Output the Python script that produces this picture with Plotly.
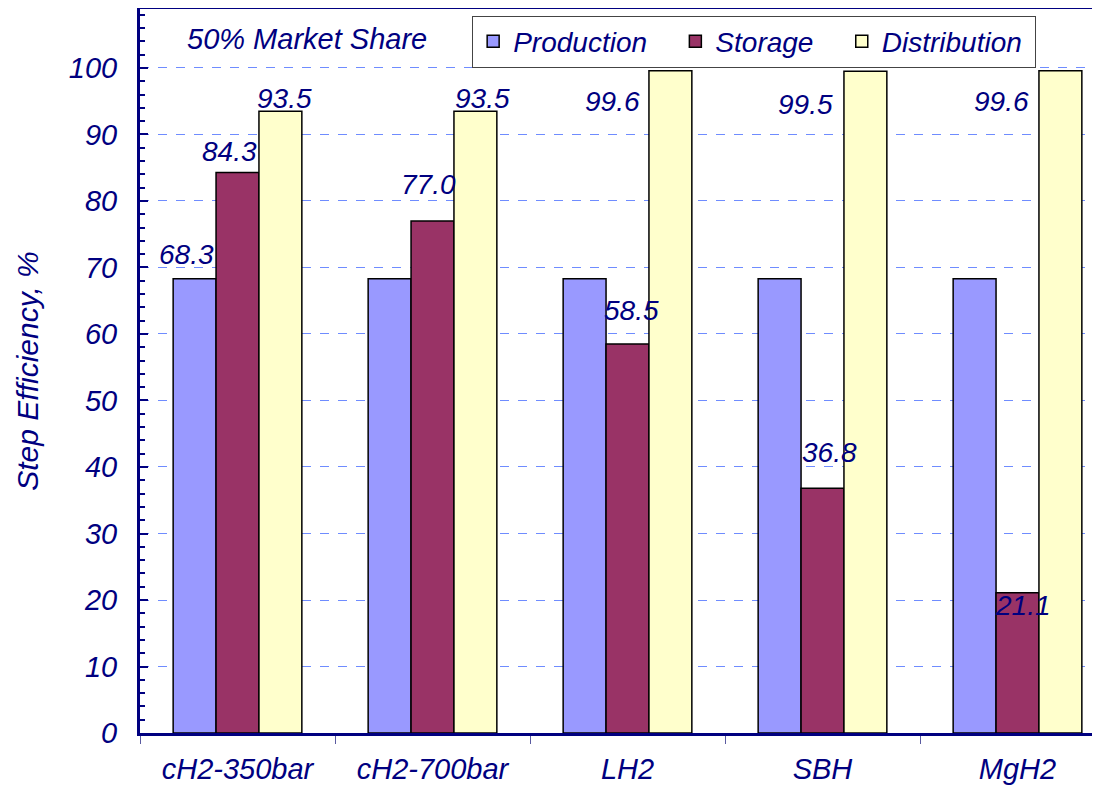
import plotly.graph_objects as go

# data
categories = ["cH2-350bar", "cH2-700bar", "LH2", "SBH", "MgH2"]
series_names = ["Production", "Storage", "Distribution"]
production = [68.3, 68.3, 68.3, 68.3, 68.3]
storage = [84.3, 77.0, 58.5, 36.8, 21.1]
distribution = [93.5, 93.5, 99.6, 99.5, 99.6]
# which values get a printed label (None = no label)
production_labels = ["68.3", None, None, None, None]
storage_labels = ["84.3", "77.0", "58.5", "36.8", "21.1"]
distribution_labels = ["93.5", "93.5", "99.6", "99.5", "99.6"]

NAVY = "#000080"
FONT = "Arial, Liberation Sans, sans-serif"
colors = ["#9999FF", "#993366", "#FFFFCC"]

values = [production, storage, distribution]
labels = [production_labels, storage_labels, distribution_labels]
# legend entries padded so the items spread like the original box
legend_pad = ["\u00a0\u00a0\u00a0", "\u00a0\u00a0\u00a0", "\u00a0"]


def navy_font(size):
    return dict(family=FONT, size=size, color=NAVY, style="italic")


fig = go.Figure()
for name, vals, col, pad in zip(series_names, values, colors, legend_pad):
    fig.add_trace(go.Bar(
        x=list(range(len(categories))), y=vals, name=name + pad,
        marker=dict(color=col, line=dict(color="black", width=1.5)),
    ))

# label placement tweaks (pixel shifts relative to bar top centre)
bar_w = 0.22
offsets = [-bar_w, 0.0, bar_w]
shift = {
    (0, 0): (-8, 24),
    (1, 0): (-8, 21), (1, 1): (-4, 36), (1, 2): (4, 33), (1, 3): (7, 36), (1, 4): (5, -13),
    (2, 0): (4, 13), (2, 1): (7, 13), (2, 2): (-58, -31), (2, 3): (-60, -33), (2, 4): (-59, -31),
}

annotations = []
for s, (vals, labs) in enumerate(zip(values, labels)):
    for g, (v, lab) in enumerate(zip(vals, labs)):
        if lab is None:
            continue
        dx, dy = shift.get((s, g), (0, 15))
        annotations.append(dict(
            x=g + offsets[s], y=v, xref="x", yref="y", text=lab, showarrow=False,
            xanchor="center", yanchor="middle", xshift=dx, yshift=dy,
            font=navy_font(28),
        ))

annotations.append(dict(
    x=0.047, y=0.959, xref="paper", yref="paper", text="50% Market Share",
    showarrow=False, xanchor="left", yanchor="middle",
    font=navy_font(29),
))

fig.update_layout(
    width=1100, height=789,
    margin=dict(l=132, r=8, t=1, b=64),
    paper_bgcolor="white", plot_bgcolor="white",
    barmode="group", bargap=0.34, bargroupgap=0,
    font=navy_font(28),
    showlegend=True,
    legend=dict(
        orientation="h", x=0.346, xanchor="left", y=0.991, yanchor="top",
        bgcolor="white", bordercolor="#444444", borderwidth=1,
        font=navy_font(28),
        itemwidth=30, tracegroupgap=0,
    ),
    annotations=annotations,
)

fig.update_xaxes(
    type="category", tickson="boundaries",
    tickmode="array", tickvals=list(range(len(categories))), ticktext=categories,
    range=[-0.5, 4.5 - 15 / 195], automargin=False,
    showline=True, linecolor=NAVY, linewidth=3, mirror=True,
    ticks="outside", ticklen=8, tickwidth=1, tickcolor="#5a5aa0",
    showgrid=False, zeroline=False, ticklabelstandoff=8,
    tickfont=navy_font(29),
)

fig.update_yaxes(
    range=[0, 108.87], dtick=10, tick0=0, automargin=False,
    showline=True, linecolor=NAVY, linewidth=3,
    ticks="inside", ticklen=8, tickwidth=2, tickcolor=NAVY,
    minor=dict(dtick=2, ticks="inside", ticklen=5, tickwidth=2, tickcolor=NAVY, showgrid=False),
    showgrid=True, gridcolor="#6f8cff", griddash="dash", gridwidth=1,
    zeroline=False, ticklabelstandoff=14,
    tickfont=navy_font(29),
    title=dict(text="Step Efficiency, %", standoff=22, font=navy_font(30)),
)

fig.write_html("out.html")
